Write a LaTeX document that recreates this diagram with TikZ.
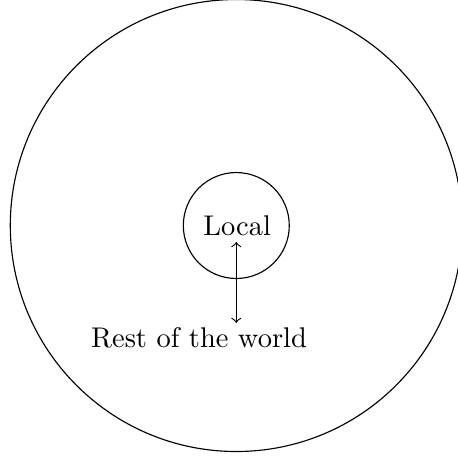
\documentclass[tikz,border=0pt]{standalone}
\usepackage{tikz}
\usetikzlibrary{positioning, calc}

\begin{document}
\begin{tikzpicture}[
  ring/.style={circle, draw, inner sep=0pt},
  label/.style={anchor=base, inner sep=0pt},
  arrow/.style={<->}
]
  \useasboundingbox (0,0) rectangle (5.642,5.654);
  \coordinate (centre) at (2.917,2.87);
  \node[ring, minimum size=5.58cm] (world) at (centre) {};
  \node[ring, minimum size=1.308cm] (localring) at (centre) {};
  \node[label] (local) at (2.928,2.747) {Local};
  \node[label] (rest) at (2.457,1.358) {Rest of the world};

  \coordinate (top) at ($(centre |- local.base) + (0,-0.08)$);
  \coordinate (bottom) at ($(top) + (0,-1)$);
  \draw[arrow] (top) -- (bottom);
\end{tikzpicture}
\end{document}
